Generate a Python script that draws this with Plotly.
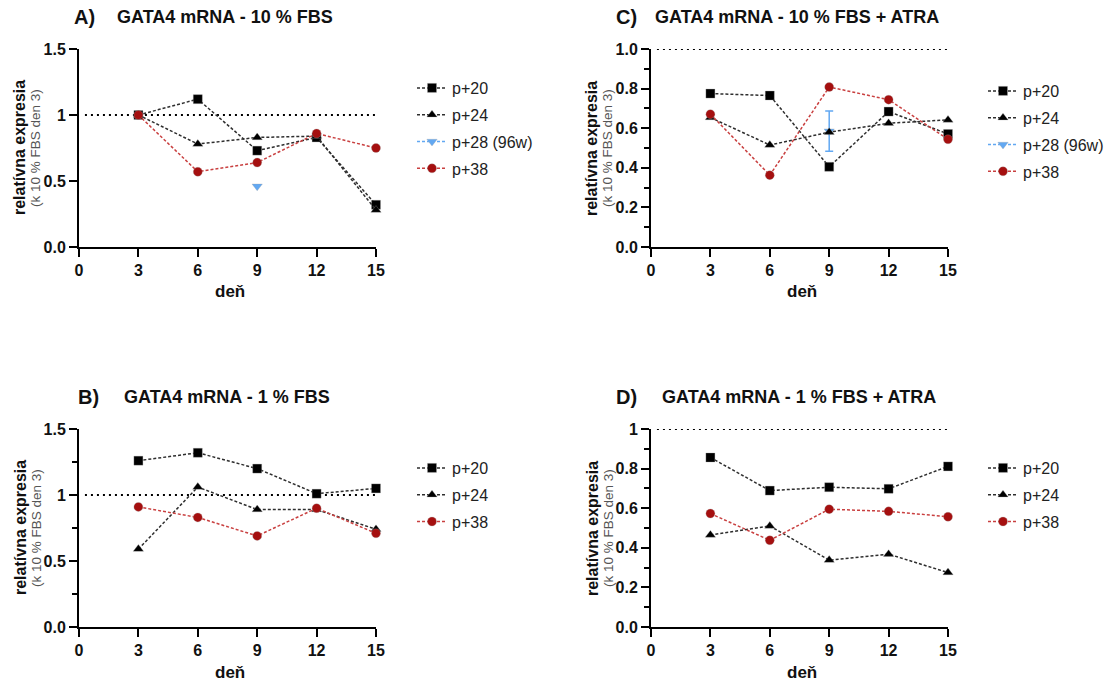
import plotly.graph_objects as go

W, H = 1113, 684

days = [3, 6, 9, 12, 15]

# Panel A: 10 % FBS
a_p20 = [1.00, 1.12, 0.73, 0.83, 0.32]
a_p24 = [1.00, 0.78, 0.83, 0.84, 0.28]
a_p28_days = [9]
a_p28 = [0.46]
a_p38 = [1.00, 0.57, 0.64, 0.86, 0.75]

# Panel C: 10 % FBS + ATRA
c_p20 = [0.775, 0.765, 0.405, 0.684, 0.571]
c_p24 = [0.654, 0.515, 0.580, 0.625, 0.642]
c_p28_days = [9]
c_p28 = [0.585]
c_p28_err = [0.102]
c_p38 = [0.671, 0.363, 0.808, 0.744, 0.544]

# Panel B: 1 % FBS
b_p20 = [1.26, 1.32, 1.20, 1.01, 1.05]
b_p24 = [0.59, 1.06, 0.89, 0.89, 0.74]
b_p38 = [0.91, 0.83, 0.69, 0.90, 0.71]

# Panel D: 1 % FBS + ATRA
d_p20 = [0.856, 0.689, 0.706, 0.698, 0.811]
d_p24 = [0.465, 0.510, 0.338, 0.368, 0.275]
d_p38 = [0.573, 0.438, 0.595, 0.584, 0.557]

x_ticks = [0, 3, 6, 9, 12, 15]
yt_A = [0, 0.5, 1, 1.5]
yl_A = ["0.0", "0.5", "1", "1.5"]
yt_C = [0, 0.2, 0.4, 0.6, 0.8, 1.0]
yl_C = ["0.0", "0.2", "0.4", "0.6", "0.8", "1.0"]
yl_D = ["0.0", "0.2", "0.4", "0.6", "0.8", "1"]

BLACK_LINE = "#2e2e2e"
RED_LINE = "#c94040"
RED_MK = "#a50f0f"
BLUE = "#62a8f2"
FONT = "Liberation Sans, Arial, sans-serif"

fig = go.Figure()

def px_x(p):
    return p / W

def px_y(p):
    return 1 - p / H

# panel geometry in pixels: (left, right, top, bottom)
panels = {
    "A": (79, 376, 49, 247),
    "C": (651, 948, 49, 247),
    "B": (79, 376, 429, 627),
    "D": (651, 948, 429, 627),
}
axis_ids = {"A": ("x", "y", ""), "C": ("x2", "y2", "2"), "B": ("x3", "y3", "3"), "D": ("x4", "y4", "4")}
legend_ids = {"A": "legend", "C": "legend2", "B": "legend3", "D": "legend4"}

def add_series(panel, name, x, y, symbol, mcolor, lcolor, rank, err=None, size=9):
    xa, ya, _ = axis_ids[panel]
    tr = go.Scatter(
        x=x, y=y, mode="lines+markers", name=name,
        xaxis=xa, yaxis=ya, legend=legend_ids[panel],
        legendgroup=panel + name, legendrank=rank,
        line=dict(color=lcolor, width=1.5, dash="3px,2px"),
        marker=dict(symbol=symbol, size=size, color=mcolor,
                    line=dict(color="rgba(160,160,160,0.6)", width=0.5)),
        cliponaxis=False,
    )
    if err is not None:
        tr.error_y = dict(type="data", array=err, visible=True, color=lcolor, thickness=1.5, width=4)
    fig.add_trace(tr)

# A
add_series("A", "p+28 (96w)", a_p28_days, a_p28, "triangle-down", BLUE, BLUE, 3)
add_series("A", "p+20", days, a_p20, "square", "black", BLACK_LINE, 1)
add_series("A", "p+24", days, a_p24, "triangle-up", "black", BLACK_LINE, 2)
add_series("A", "p+38", days, a_p38, "circle", RED_MK, RED_LINE, 4)
# C
add_series("C", "p+28 (96w)", c_p28_days, c_p28, "triangle-down", BLUE, BLUE, 3, err=c_p28_err)
add_series("C", "p+20", days, c_p20, "square", "black", BLACK_LINE, 1)
add_series("C", "p+24", days, c_p24, "triangle-up", "black", BLACK_LINE, 2)
add_series("C", "p+38", days, c_p38, "circle", RED_MK, RED_LINE, 4)
# B
add_series("B", "p+20", days, b_p20, "square", "black", BLACK_LINE, 1)
add_series("B", "p+24", days, b_p24, "triangle-up", "black", BLACK_LINE, 2)
add_series("B", "p+38", days, b_p38, "circle", RED_MK, RED_LINE, 4)
# D
add_series("D", "p+20", days, d_p20, "square", "black", BLACK_LINE, 1)
add_series("D", "p+24", days, d_p24, "triangle-up", "black", BLACK_LINE, 2)
add_series("D", "p+38", days, d_p38, "circle", RED_MK, RED_LINE, 4)

tickfont = dict(family=FONT, size=16, color="#111", weight="bold")

yspec = {
    "A": ([0, 1.5], yt_A, yl_A, None),
    "C": ([0, 1.0], yt_C, yl_C, [0.1, 0.3, 0.5, 0.7, 0.9]),
    "B": ([0, 1.5], yt_A, yl_A, [0.25, 0.75, 1.25]),
    "D": ([0, 1.0], yt_C, yl_D, [0.1, 0.3, 0.5, 0.7, 0.9]),
}

titles = {
    "A": ("A)", "GATA4 mRNA - 10 % FBS", 72, 115, 17),
    "C": ("C)", "GATA4 mRNA - 10 % FBS + ATRA", 614, 653, 17),
    "B": ("B)", "GATA4 mRNA - 1 % FBS", 76, 122, 397),
    "D": ("D)", "GATA4 mRNA - 1 % FBS + ATRA", 614, 660, 397),
}

legend_pos = {"A": (412, 71), "C": (983, 74), "B": (412, 451), "D": (983, 451)}

layout_updates = {}
annotations = []
shapes = []
for p, (l, r, t, b) in panels.items():
    xa, ya, suf = axis_ids[p]
    yr, yt, yl, minor = yspec[p]
    xaxis = dict(
        domain=[px_x(l), px_x(r)], range=[0, 15], anchor=ya,
        tickmode="array", tickvals=x_ticks, ticks="outside", ticklen=8, tickwidth=2,
        tickcolor="black", showline=True, linewidth=2, linecolor="black",
        showgrid=False, zeroline=False, tickfont=tickfont, fixedrange=True,
    )
    yaxis = dict(
        domain=[px_y(b), px_y(t)], range=yr, anchor=xa,
        tickmode="array", tickvals=yt, ticktext=yl, ticks="outside", ticklen=8, tickwidth=2,
        tickcolor="black", showline=True, linewidth=2, linecolor="black",
        showgrid=False, zeroline=False, tickfont=tickfont, fixedrange=True,
    )
    if minor:
        yaxis["minor"] = dict(tickmode="array", tickvals=minor, ticks="outside", ticklen=5,
                              tickwidth=1.5, tickcolor="black", showgrid=False)
    layout_updates["xaxis" + suf] = xaxis
    layout_updates["yaxis" + suf] = yaxis

    # dotted reference line at 1
    shapes.append(dict(type="line", xref=xa, yref=ya, x0=0.3, x1=15, y0=1, y1=1,
                       line=dict(color="black", width=2, dash="2px,4px"), layer="below"))

    # x-axis title
    annotations.append(dict(text="deň", x=px_x((l + r) / 2 + 2), y=px_y(b + 45), xref="paper", yref="paper",
                            showarrow=False, xanchor="center", yanchor="middle",
                            font=dict(family=FONT, size=17, color="#111", weight="bold")))
    # y-axis title (two lines)
    annotations.append(dict(text="relatívna expresia", x=px_x(l - 59), y=px_y((t + b) / 2), xref="paper", yref="paper",
                            showarrow=False, xanchor="center", yanchor="middle", textangle=-90,
                            font=dict(family=FONT, size=16, color="#111", weight="bold")))
    annotations.append(dict(text="(k 10 % FBS den 3)", x=px_x(l - 43), y=px_y((t + b) / 2), xref="paper", yref="paper",
                            showarrow=False, xanchor="center", yanchor="middle", textangle=-90,
                            font=dict(family=FONT, size=13.5, color="#555")))
    # panel titles
    letter, title, lx, tx, ty = titles[p]
    annotations.append(dict(text=letter, x=px_x(lx), y=px_y(ty), xref="paper", yref="paper",
                            showarrow=False, xanchor="left", yanchor="middle",
                            font=dict(family=FONT, size=20, color="#111", weight="bold")))
    annotations.append(dict(text=title, x=px_x(tx), y=px_y(ty), xref="paper", yref="paper",
                            showarrow=False, xanchor="left", yanchor="middle",
                            font=dict(family=FONT, size=18, color="#111", weight="bold")))

    lx_, ly_ = legend_pos[p]
    layout_updates[legend_ids[p]] = dict(
        x=px_x(lx_), y=px_y(ly_), xanchor="left", yanchor="top",
        xref="paper", yref="paper", bgcolor="rgba(0,0,0,0)", borderwidth=0,
        font=dict(family=FONT, size=16, color="#222"),
        tracegroupgap=3, traceorder="grouped", itemclick=False, itemdoubleclick=False,
    )

fig.update_layout(
    width=W, height=H, margin=dict(l=0, r=0, t=0, b=0, autoexpand=False),
    paper_bgcolor="white", plot_bgcolor="white",
    showlegend=True, annotations=annotations, shapes=shapes,
    **layout_updates,
)

fig.write_html("out.html", config={"displayModeBar": False})
